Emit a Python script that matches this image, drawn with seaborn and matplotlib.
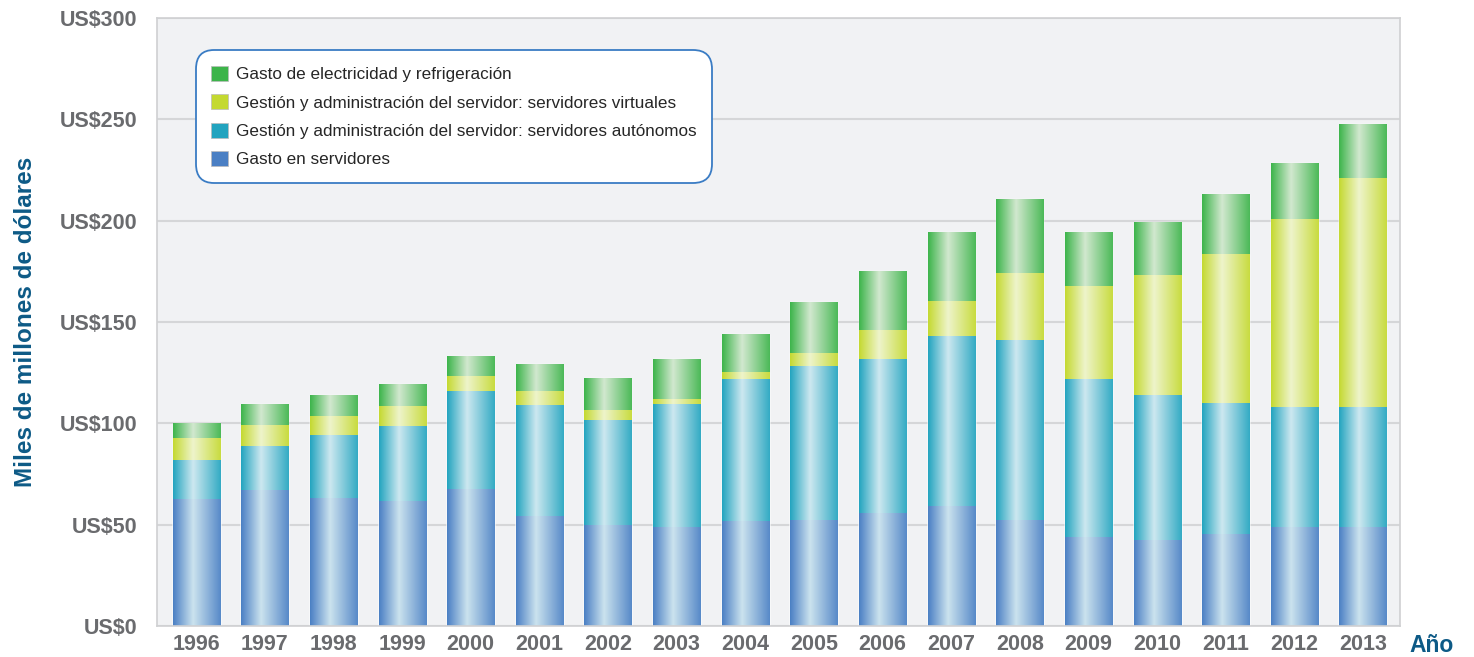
import numpy as np
import pandas as pd
import matplotlib
matplotlib.use("Agg")
import matplotlib.pyplot as plt
from matplotlib.colors import to_rgb
from matplotlib.patches import Patch
import seaborn as sns

years = [str(y) for y in range(1996, 2014)]

# values in miles de millones de dolares
servidores = [62.5, 67, 63, 61.7, 67.6, 54.3, 49.8, 48.8, 51.8, 52.3,
              55.7, 59.2, 52.3, 43.9, 42.4, 45.4, 48.8, 48.8]
autonomos = [19.5, 22, 31, 37, 48.3, 54.7, 51.8, 60.7, 70.1, 76,
             76, 83.9, 88.8, 78, 71.6, 64.6, 59.2, 59.2]
virtuales = [11, 10, 9.6, 9.8, 7.4, 6.9, 5, 2.5, 3.4, 6.4,
             14.3, 17.2, 33.1, 45.8, 59.2, 73.5, 92.8, 113]
electricidad = [7, 10.5, 10.4, 10.9, 9.9, 13.4, 15.7, 19.7, 18.7, 25.1,
                29.1, 34.1, 36.5, 26.7, 26.1, 29.6, 27.6, 26.7]

labels = ["Gasto de electricidad y refrigeración",
          "Gestión y administración del servidor: servidores virtuales",
          "Gestión y administración del servidor: servidores autónomos",
          "Gasto en servidores"]

# base colour, highlight colour
colors = {
    "electricidad": ("#3cb44a", "#d2e8cf"),
    "virtuales": ("#c4d930", "#eef4cb"),
    "autonomos": ("#22a4bf", "#cde8f0"),
    "servidores": ("#4a7fc4", "#cbe3ee"),
}

df = pd.DataFrame({"year": years, "servidores": servidores,
                   "autonomos": autonomos, "virtuales": virtuales,
                   "electricidad": electricidad})
df["c_servidores"] = df["servidores"]
df["c_autonomos"] = df["c_servidores"] + df["autonomos"]
df["c_virtuales"] = df["c_autonomos"] + df["virtuales"]
df["c_electricidad"] = df["c_virtuales"] + df["electricidad"]

sns.set_style("white")
plt.rcParams["font.family"] = ["Liberation Sans", "DejaVu Sans"]

fig = plt.figure(figsize=(14.74, 6.57), dpi=100)
ax = fig.add_axes([157 / 1474, 31 / 657, 1243 / 1474, 608 / 657])
ax.set_facecolor("#f1f2f4")


def gradient(base, light, n=256):
    b = np.array(to_rgb(base))
    l = np.array(to_rgb(light))
    xs = np.linspace(0, 1, n)
    stops = [0.0, 0.42, 1.0]
    cols = [b, l, b * 0.9 + l * 0.1]
    arr = np.zeros((1, n, 3))
    for i in range(3):
        arr[0, :, i] = np.interp(xs, stops, [c[i] for c in cols])
    return arr


# draw cumulative totals from top series down so each covers the one below
for key in ["electricidad", "virtuales", "autonomos", "servidores"]:
    base, light = colors[key]
    n_before = len(ax.patches)
    sns.barplot(data=df, x="year", y="c_" + key, color=base, saturation=1,
                width=0.685, errorbar=None, order=years, ax=ax, zorder=2)
    for p in ax.patches[n_before:]:
        x0, y0 = p.get_x(), p.get_y()
        w, h = p.get_width(), p.get_height()
        im = ax.imshow(gradient(base, light), extent=[x0, x0 + w, y0, y0 + h],
                       aspect="auto", origin="lower", zorder=2.5,
                       interpolation="bilinear")
        im.set_clip_path(p)

ax.set_xlim(-0.57, 17.54)
ax.set_ylim(0, 300)
ax.set_yticks(range(0, 301, 50))
ax.set_yticklabels([f"US${v}" for v in range(0, 301, 50)])
ax.set_xticks(range(len(years)))
ax.set_xticklabels(years)
ax.set_xticks([-0.57] + [i + 0.5 for i in range(17)] + [17.54], minor=True)

ax.grid(axis="y", color="#d5d6d8", linewidth=1.5, zorder=0)
ax.grid(axis="x", visible=False)
ax.set_axisbelow(True)

for s in ax.spines.values():
    s.set_color("#cfd0d2")
    s.set_linewidth(1.2)

ax.tick_params(axis="y", length=0, pad=14, labelsize=15.5, labelcolor="#6a6b6e")
ax.tick_params(axis="x", which="major", length=0, pad=6, labelsize=15.5,
               labelcolor="#6a6b6e")
ax.tick_params(axis="x", which="minor", length=17, width=1.2, color="#cfd0d2",
               direction="out")
for t in ax.get_xticklabels() + ax.get_yticklabels():
    t.set_fontweight("bold")

ax.set_xlabel("")
ax.set_ylabel("Miles de millones de dólares", fontsize=17.5, fontweight="bold",
              color="#0d5a86")
ax.yaxis.set_label_coords(-0.0965, 0.5)

fig.text(1409 / 1474, 12 / 657, "Año", fontsize=16.5, fontweight="bold",
         color="#0d5a86", ha="left", va="center")

handles = [Patch(facecolor=colors[k][0], edgecolor="#bbbbbb", linewidth=0.5)
           for k in ["electricidad", "virtuales", "autonomos", "servidores"]]
leg = ax.legend(handles, labels, loc="upper left",
                bbox_to_anchor=(0.031, 0.947), fontsize=12.3, frameon=True,
                fancybox=True, handlelength=1.0, handleheight=1.0,
                handletextpad=0.45, labelspacing=0.7, borderpad=0.9,
                borderaxespad=0)
frame = leg.get_frame()
frame.set_edgecolor("#3a7cc4")
frame.set_linewidth(1.3)
frame.set_facecolor("white")
frame.set_alpha(1)
frame.set_boxstyle("round", pad=0, rounding_size=1.1)
leg.set_zorder(5)

fig.savefig("out.png", dpi=100)
